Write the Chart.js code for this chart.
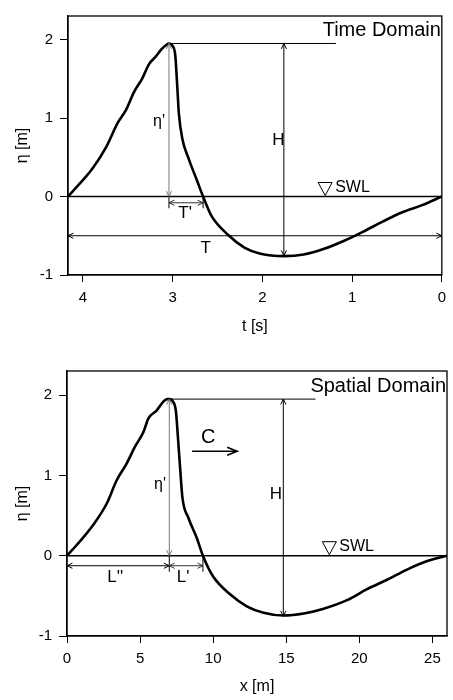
<!DOCTYPE html>
<html>
<head>
<meta charset="utf-8">
<script src="https://cdn.jsdelivr.net/npm/chart.js@4"></script>
<style>
body{margin:0;background:#fff;}
.box{position:absolute;left:0;width:453px;}
</style>
</head>
<body>
<div class="box" style="top:0;height:340px"><canvas id="timeChart"></canvas></div>
<div class="box" style="top:340px;height:360px"><canvas id="spaceChart"></canvas></div>
<script>
// surface elevation, time domain (t runs right to left)
const timeT   = [4.165, 4.03, 3.89, 3.74, 3.61, 3.52, 3.43, 3.34, 3.26, 3.19, 3.12, 3.07, 3.04, 3.00, 2.97, 2.95, 2.93, 2.89, 2.82, 2.73, 2.66, 2.57, 2.38, 2.20, 2.02, 1.76, 1.54, 1.32, 1.10, 0.88, 0.66, 0.44, 0.22, 0.0];
const timeEta = [0, 0.17, 0.36, 0.63, 0.94, 1.10, 1.33, 1.50, 1.69, 1.78, 1.88, 1.93, 1.95, 1.92, 1.80, 1.45, 1.06, 0.73, 0.48, 0.21, 0, -0.24, -0.49, -0.65, -0.73, -0.76, -0.74, -0.67, -0.57, -0.45, -0.32, -0.20, -0.11, 0];

// surface elevation, spatial domain
const spaceX   = [0, 0.89, 1.80, 2.72, 3.40, 4.09, 4.66, 5.23, 5.57, 6.14, 6.6, 6.85, 7.0, 7.25, 7.45, 7.6, 7.74, 7.9, 8.31, 8.88, 9.3, 10.0, 11.16, 12.3, 13.45, 14.8, 16.2, 17.56, 19.2, 20.5, 21.9, 23.3, 24.6, 26];
const spaceEta = [0, 0.18, 0.385, 0.65, 0.94, 1.15, 1.36, 1.54, 1.71, 1.81, 1.92, 1.95, 1.95, 1.92, 1.80, 1.45, 1.09, 0.72, 0.47, 0.22, 0, -0.26, -0.48, -0.63, -0.71, -0.745, -0.72, -0.66, -0.55, -0.42, -0.30, -0.17, -0.07, 0];

const etaTicks = [-1, 0, 1, 2];
const timeTicks = [4, 3, 2, 1, 0];
const spaceTicks = [0, 5, 10, 15, 20, 25];

// annotation anchors (data units)
const crestT = 3.04, crestX = 7.0, crestEta = 1.95, troughEta = -0.755;
const zeroT = 2.66, zeroX = 9.3;

const FONT = '"Liberation Sans", Arial, sans-serif';
Chart.defaults.font.family = FONT;
Chart.defaults.color = '#000';

function arrowHead(ctx, x, y, ang){
	ctx.beginPath();
	ctx.moveTo(x - 6*Math.cos(ang - 0.45), y - 6*Math.sin(ang - 0.45));
	ctx.lineTo(x, y);
	ctx.lineTo(x - 6*Math.cos(ang + 0.45), y - 6*Math.sin(ang + 0.45));
	ctx.stroke();
}
function arrow(ctx, x1, y1, x2, y2, both, color){
	ctx.save();
	ctx.strokeStyle = color || '#000';
	ctx.lineWidth = 1;
	ctx.beginPath(); ctx.moveTo(x1, y1); ctx.lineTo(x2, y2); ctx.stroke();
	const a = Math.atan2(y2 - y1, x2 - x1);
	arrowHead(ctx, x2, y2, a);
	if(both) arrowHead(ctx, x1, y1, a + Math.PI);
	ctx.restore();
}
function line(ctx, x1, y1, x2, y2, w){
	ctx.beginPath(); ctx.lineWidth = w || 1; ctx.moveTo(x1, y1); ctx.lineTo(x2, y2); ctx.stroke();
}
function label(ctx, txt, x, y, size, align){
	ctx.font = size + 'px ' + FONT;
	ctx.fillStyle = '#000';
	ctx.textAlign = align || 'center';
	ctx.textBaseline = 'middle';
	ctx.fillText(txt, x, y);
}
function swl(ctx, x, y0){
	ctx.beginPath();
	ctx.lineWidth = 1;
	ctx.moveTo(x - 7, y0 - 14); ctx.lineTo(x + 7, y0 - 14); ctx.lineTo(x, y0 - 1); ctx.closePath();
	ctx.stroke();
	label(ctx, 'SWL', x + 10, y0 - 9, 16, 'left');
}

const sketch = {
	id: 'sketch',
	beforeDatasetsDraw(chart){
		const {ctx, chartArea: a, scales: {y}} = chart;
		ctx.save();
		ctx.strokeStyle = '#000';
		line(ctx, a.left, y.getPixelForValue(0), a.right, y.getPixelForValue(0), 1.4);
		ctx.restore();
	},
	afterDraw(chart){
		const {ctx, chartArea: a, scales: {x, y}} = chart;
		const mode = chart.options.plugins.sketch.mode;
		ctx.save();
		ctx.strokeStyle = '#000';
		ctx.lineWidth = 1.3;
		ctx.strokeRect(a.left, a.top, a.right - a.left, a.bottom - a.top);
		const Y = v => y.getPixelForValue(v), X = v => x.getPixelForValue(v);
		if(mode === 'time'){
			line(ctx, X(crestT), Y(crestEta), X(1.18), Y(crestEta));
			arrow(ctx, X(crestT), Y(crestEta), X(crestT), Y(0), true, '#777');
			label(ctx, "η'", X(3.15), Y(0.96), 16);
			arrow(ctx, X(1.76), Y(crestEta), X(1.76), Y(troughEta), true);
			label(ctx, 'H', X(1.82), Y(0.71), 17);
			line(ctx, X(crestT), Y(0), X(crestT), Y(-0.15));
			line(ctx, X(zeroT), Y(0), X(zeroT), Y(-0.15));
			arrow(ctx, X(crestT), Y(-0.08), X(zeroT), Y(-0.08), true, '#333');
			label(ctx, "T'", X(2.86), Y(-0.22), 17);
			arrow(ctx, a.left, Y(-0.5), a.right, Y(-0.5), true);
			label(ctx, 'T', X(2.63), Y(-0.66), 17);
			swl(ctx, X(1.30), Y(0));
			ctx.font = '20px ' + FONT; ctx.textAlign = 'right'; ctx.textBaseline = 'alphabetic';
			ctx.fillText('Time Domain', a.right - 1, a.top + 20);
		} else {
			line(ctx, X(crestX), Y(crestEta), X(17.0), Y(crestEta));
			arrow(ctx, X(crestX), Y(crestEta), X(crestX), Y(0), true, '#777');
			label(ctx, "η'", X(6.37), Y(0.88), 16);
			arrow(ctx, X(14.8), Y(crestEta), X(14.8), Y(troughEta), true);
			label(ctx, 'H', X(14.3), Y(0.77), 17);
			label(ctx, 'C', X(9.66), Y(1.47), 20);
			ctx.save(); ctx.lineWidth = 1.6;
			ctx.beginPath(); ctx.moveTo(X(8.56), Y(1.30)); ctx.lineTo(X(11.64), Y(1.30)); ctx.stroke();
			ctx.beginPath(); ctx.moveTo(X(11.64) - 10, Y(1.30) - 4); ctx.lineTo(X(11.64), Y(1.30)); ctx.lineTo(X(11.64) - 10, Y(1.30) + 4); ctx.stroke();
			ctx.restore();
			line(ctx, X(crestX), Y(0), X(crestX), Y(-0.2));
			line(ctx, X(zeroX), Y(0), X(zeroX), Y(-0.2));
			arrow(ctx, a.left, Y(-0.125), X(crestX), Y(-0.125), true);
			arrow(ctx, X(crestX), Y(-0.125), X(zeroX), Y(-0.125), true, '#333');
			label(ctx, "L''", X(3.3), Y(-0.27), 17);
			label(ctx, "L'", X(7.95), Y(-0.27), 17);
			swl(ctx, X(17.95), Y(0));
			ctx.font = '20px ' + FONT; ctx.textAlign = 'right'; ctx.textBaseline = 'alphabetic';
			ctx.fillText('Spatial Domain', a.right - 1, a.top + 21);
		}
		ctx.restore();
	}
};

function waveChart(id, xs, ys, o){
	const pts = xs.map((v, i) => ({x: v, y: ys[i]}));
	new Chart(document.getElementById(id), {
		type: 'line',
		data: {datasets: [{data: pts, borderColor: '#000', borderWidth: 2.6, pointRadius: 0, cubicInterpolationMode: 'monotone', fill: false}]},
		options: {
			responsive: true,
			maintainAspectRatio: false,
			animation: false,
			layout: {padding: {top: o.top, right: o.right, left: 0, bottom: 0}},
			plugins: {legend: {display: false}, tooltip: {enabled: false}, sketch: {mode: o.mode}},
			scales: {
				x: {
					type: 'linear', min: o.min, max: o.max, reverse: o.reverse,
					afterFit: s => { s.height = o.xh; },
					afterBuildTicks: s => { s.ticks = o.ticks.map(v => ({value: v})); },
					grid: {drawOnChartArea: false, tickLength: 7, color: '#000'},
					border: {color: '#000', width: 1.3},
					ticks: {padding: 7, font: {size: 15}, maxRotation: 0},
					title: {display: true, text: o.title, font: {size: 16}, padding: {bottom: 4}}
				},
				y: {
					min: -1, max: 2.3,
					afterFit: s => { s.width = o.yw; },
					afterBuildTicks: s => { s.ticks = etaTicks.map(v => ({value: v})); },
					grid: {drawOnChartArea: false, tickLength: 8, color: '#000'},
					border: {color: '#000', width: 1.3},
					ticks: {padding: 7, font: {size: 15}},
					title: {display: true, text: 'η [m]', font: {size: 16}, padding: {top: 13}}
				}
			}
		},
		plugins: [sketch]
	});
}

waveChart('timeChart', timeT, timeEta, {mode: 'time', min: 0, max: 4.165, reverse: true, ticks: timeTicks, title: 't [s]', top: 9, right: 5, xh: 65, yw: 68});
waveChart('spaceChart', spaceX, spaceEta, {mode: 'space', min: 0, max: 26, reverse: false, ticks: spaceTicks, title: 'x [m]', top: 31, right: 6, xh: 64, yw: 67});
</script>
</body>
</html>
